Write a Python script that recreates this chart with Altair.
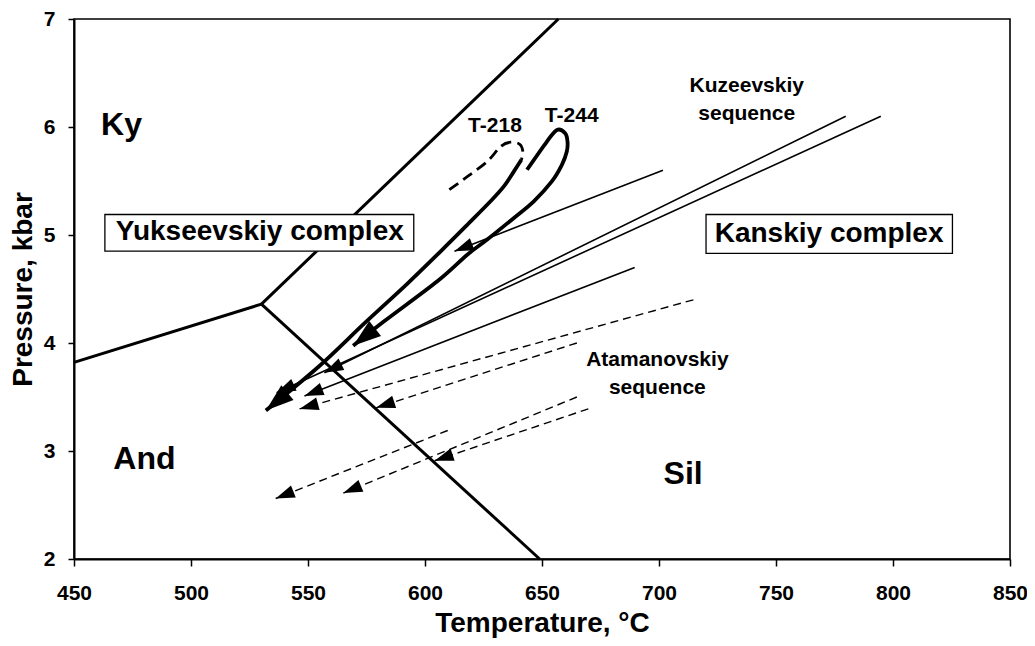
import math
import altair as alt
import pandas as pd

W, H = 936, 540
T_DOMAIN = [450, 850]
P_DOMAIN = [2, 7]
FONT = "Liberation Sans"

# ---- Al2SiO5 phase boundaries (Ky-And, Ky-Sil, And-Sil) ----
bnd_id = ["ky_and", "ky_and", "ky_sil", "ky_sil", "and_sil", "and_sil"]
bnd_T = [450, 530.1, 530.1, 657.0, 530.1, 649.0]
bnd_P = [3.82, 4.36, 4.36, 7.00, 4.36, 2.00]

# ---- PT path of sample T-244 (thick, solid) ----
t244_T = [643.6, 652.1, 656.4, 659.9, 660.9, 660.6, 658.5, 654.2, 646.5,
          638.0, 626.6, 618.2, 605.4, 582.8, 569.3]
t244_P = [5.604, 5.865, 5.973, 5.942, 5.865, 5.773, 5.650, 5.496, 5.312,
          5.158, 4.958, 4.820, 4.574, 4.205, 3.974]

# ---- PT path of sample T-218: dashed start, then thick solid ----
t218d_T = [610.4, 618.2, 626.6, 632.3, 636.5, 640.5, 641.8, 641.2]
t218d_P = [5.420, 5.542, 5.681, 5.819, 5.859, 5.840, 5.773, 5.696]
t218_T = [641.2, 638.0, 633.7, 628.0, 618.2, 606.8, 592.5, 574.3, 554.5, 532.0]
t218_P = [5.696, 5.589, 5.450, 5.312, 5.097, 4.851, 4.550, 4.186, 3.780, 3.375]

# ---- Kuzeevskiy sequence (thin solid lines, peak -> arrow tip) ----
kuz_T0 = [701.7, 779.8, 794.8, 689.6]
kuz_P0 = [5.60, 6.10, 6.10, 4.70]
kuz_T1 = [612.6, 557.0, 536.6, 548.5]
kuz_P1 = [4.85, 3.725, 3.54, 3.51]

# ---- Atamanovskiy sequence (dashed lines, peak -> arrow tip) ----
atam_T0 = [714.7, 664.9, 609.7, 664.9, 669.8]
atam_P0 = [4.40, 4.00, 3.19, 3.50, 3.39]
atam_T1 = [546.4, 579.1, 536.2, 565.1, 604.1]
atam_P1 = [3.39, 3.40, 2.56, 2.61, 2.91]

# ---- text labels ----
lab_text = ["Ky", "And", "Sil",
            "Yukseevskiy complex", "Kanskiy complex",
            "Kuzeevskiy", "sequence", "Atamanovskiy", "sequence",
            "T-218", "T-244"]
lab_T = [470.3, 480.1, 710.3, 529.4, 772.7, 737.5, 737.5, 699.3, 699.3, 629.9, 662.7]
lab_P = [6.02, 2.93, 2.79, 5.03, 5.01, 6.38, 6.12, 3.84, 3.58, 6.01, 6.10]
lab_fs = [32, 32, 32, 28, 28, 21, 21, 21, 21, 21, 21]

# ---- framed boxes around the complex names ----
box_T0 = [463.2, 720.1]
box_T1 = [595.2, 825.4]
box_P0 = [4.85, 4.83]
box_P1 = [5.19, 5.19]

# ---------------------------------------------------------------
def path_rows(name, Ts, Ps):
    return [{"id": name, "i": i, "T": t, "P": p} for i, (t, p) in enumerate(zip(Ts, Ps))]

bnd_rows = []
for i, (n, t, p) in enumerate(zip(bnd_id, bnd_T, bnd_P)):
    bnd_rows.append({"id": n, "i": i, "T": t, "P": p})
bnd_df = pd.DataFrame(bnd_rows)

thick_df = pd.DataFrame(path_rows("T-244", t244_T, t244_P) + path_rows("T-218", t218_T, t218_P))
thickdash_df = pd.DataFrame(path_rows("T-218d", t218d_T, t218d_P))

kuz_rows, atam_rows = [], []
for k in range(len(kuz_T0)):
    kuz_rows += path_rows(f"k{k}", [kuz_T0[k], kuz_T1[k]], [kuz_P0[k], kuz_P1[k]])
for k in range(len(atam_T0)):
    atam_rows += path_rows(f"a{k}", [atam_T0[k], atam_T1[k]], [atam_P0[k], atam_P1[k]])
kuz_df = pd.DataFrame(kuz_rows)
atam_df = pd.DataFrame(atam_rows)

sx = W / (T_DOMAIN[1] - T_DOMAIN[0])
sy = H / (P_DOMAIN[1] - P_DOMAIN[0])


def arrow(Tprev, Pprev, T, P):
    dx = (T - Tprev) * sx
    dy = -(P - Pprev) * sy
    return {"T": T, "P": P, "angle": math.degrees(math.atan2(dy, dx)) % 360}


thick_arrows = pd.DataFrame([
    arrow(t244_T[-2], t244_P[-2], t244_T[-1], t244_P[-1]),
    arrow(t218_T[-2], t218_P[-2], t218_T[-1], t218_P[-1]),
])
thin_arrows = pd.DataFrame(
    [arrow(kuz_T0[k], kuz_P0[k], kuz_T1[k], kuz_P1[k]) for k in range(len(kuz_T0))]
    + [arrow(atam_T0[k], atam_P0[k], atam_T1[k], atam_P1[k]) for k in range(len(atam_T0))]
)

lab_df = pd.DataFrame({"text": lab_text, "T": lab_T, "P": lab_P, "fs": lab_fs})
box_df = pd.DataFrame({"T0": box_T0, "T1": box_T1, "P0": box_P0, "P1": box_P1})

xscale = alt.Scale(domain=T_DOMAIN, nice=False, zero=False)
yscale = alt.Scale(domain=P_DOMAIN, nice=False, zero=False)
xaxis = alt.Axis(values=list(range(450, 851, 50)), format="d", title="Temperature, °C",
                 tickSize=7, labelPadding=16, titlePadding=6, labelFlush=False, labelOverlap=False)
yaxis = alt.Axis(values=[2, 3, 4, 5, 6, 7], format="d", title="Pressure, kbar",
                 tickSize=6, labelPadding=13, titlePadding=6, labelFlush=False, labelOverlap=False)


def X(f="T"):
    return alt.X(f"{f}:Q", scale=xscale, axis=xaxis)


def Y(f="P"):
    return alt.Y(f"{f}:Q", scale=yscale, axis=yaxis)


def lines(df, **mk):
    return alt.Chart(df).mark_line(color="black", **mk).encode(
        x=X(), y=Y(), detail="id:N", order="i:Q")


ARROW = "M0,0L-1,-0.34L-1,0.34Z"

layers = [
    lines(bnd_df, strokeWidth=3),
    lines(kuz_df, strokeWidth=1.6),
    lines(atam_df, strokeWidth=1.4, strokeDash=[8, 5]),
    lines(thickdash_df, strokeWidth=2.8, strokeDash=[11, 6], interpolate="cardinal"),
    lines(thick_df, strokeWidth=3.8, interpolate="cardinal"),
    alt.Chart(thin_arrows).mark_point(shape=ARROW, filled=True, fill="black", stroke=None,
                                      opacity=1, size=4 * 19 ** 2).encode(
        x=X(), y=Y(), angle=alt.Angle("angle:Q", scale=None)),
    alt.Chart(thick_arrows).mark_point(shape=ARROW, filled=True, fill="black", stroke=None,
                                       opacity=1, size=4 * 28 ** 2).encode(
        x=X(), y=Y(), angle=alt.Angle("angle:Q", scale=None)),
    alt.Chart(box_df).mark_rect(fill="white", stroke="black", strokeWidth=1.3).encode(
        x=X("T0"), x2="T1:Q", y=Y("P0"), y2="P1:Q"),
    alt.Chart(lab_df).mark_text(font=FONT, fontWeight="bold", color="black",
                                align="center", baseline="middle").encode(
        x=X(), y=Y(), text="text:N", size=alt.Size("fs:Q", scale=None)),
]

chart = alt.layer(*layers).properties(
    width=W, height=H,
    autosize=alt.AutoSizeParams(type="none"),
    padding={"left": 66, "top": 11, "right": 17, "bottom": 79},
).configure_view(
    stroke="black", strokeWidth=1.6
).configure_axis(
    grid=False, domainColor="black", domainWidth=2, tickColor="black", tickWidth=1.5,
    labelFont=FONT, labelFontWeight="bold", labelFontSize=21, labelColor="black",
    titleFont=FONT, titleFontWeight="bold", titleFontSize=28, titleColor="black",
)

chart.save("out.html", embed_options={"renderer": "svg", "actions": False})
